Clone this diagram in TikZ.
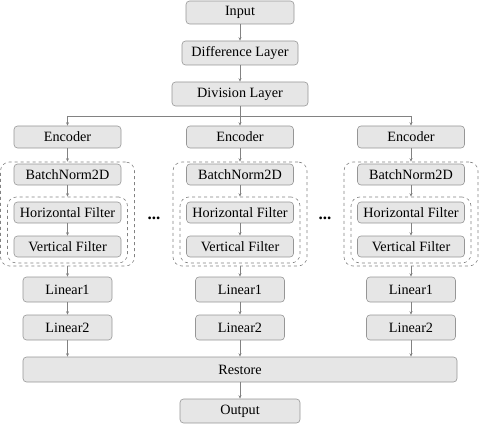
\documentclass[tikz,border=0pt]{standalone}
\usepackage{fontspec}
\setmainfont{Liberation Serif}
\usetikzlibrary{arrows.meta}
\definecolor{boxfill}{RGB}{230,230,230}
\definecolor{boxline}{RGB}{150,150,150}
\definecolor{arrowc}{RGB}{130,130,130}
\begin{document}
\begin{tikzpicture}[x=1pt,y=-1pt,
  blk/.style={draw=boxline,fill=boxfill,rounded corners=3.5pt,line width=0.6pt,inner sep=0pt,
    font=\rmfamily\fontsize{14.2}{15}\selectfont},
  dbox/.style={draw=arrowc,dashed,rounded corners=9pt,line width=0.6pt,inner sep=0pt},
  arr/.style={draw=arrowc,line width=0.6pt,-{Stealth[length=3.5pt,width=3pt]}},
  ln/.style={draw=arrowc,line width=0.6pt},
  dotsty/.style={font=\rmfamily\fontsize{17}{17}\selectfont\bfseries,anchor=base,inner sep=0pt}]
\useasboundingbox (0,0) rectangle (479,425);
\node[blk,minimum width=108pt,minimum height=23pt] (input) at (240,12.5) {Input};
\node[blk,minimum width=116pt,minimum height=24pt] (diff) at (240,53) {Difference Layer};
\node[blk,minimum width=136pt,minimum height=24pt] (div) at (240,94) {Division Layer};
\draw[arr] (input) -- (diff);
\draw[arr] (diff) -- (div);
\coordinate (b1) at (67.5,116);
\coordinate (b2) at (240,116);
\coordinate (b3) at (411,116);
\draw[ln] (div.south) -- (b2);
\draw[ln] (b1) -- (b3);
\node[blk,minimum width=434pt,minimum height=25pt] (restore) at (240,369.5) {Restore};
\node[blk,minimum width=120pt,minimum height=24pt] (output) at (240,411) {Output};
\draw[arr] (restore) -- (output);
\foreach \i/\cx in {1/67.5,2/240,3/411}{
  \node[dbox,minimum width=134pt,minimum height=104pt] (outer\i) at (\cx,214) {};
  \node[dbox,minimum width=120pt,minimum height=66pt] (inner\i) at (\cx,230) {};
  \node[blk,minimum width=107pt,minimum height=22pt] (enc\i) at (\cx,137) {Encoder};
  \node[blk,minimum width=107pt,minimum height=21pt] (bn\i) at (\cx,174.5) {BatchNorm2D};
  \node[blk,minimum width=107pt,minimum height=21pt] (hf\i) at (\cx,212.5) {Horizontal Filter};
  \node[blk,minimum width=107pt,minimum height=21pt] (vf\i) at (\cx,246.5) {Vertical Filter};
  \node[blk,minimum width=89pt,minimum height=25pt] (linA\i) at (\cx,289.5) {Linear1};
  \node[blk,minimum width=89pt,minimum height=25pt] (linB\i) at (\cx,327.5) {Linear2};
  \draw[arr] (b\i) -- (enc\i.north);
  \draw[arr] (enc\i.south) -- (outer\i.north);
  \draw[arr] (bn\i.south) -- (inner\i.north);
  \draw[arr] (hf\i.south) -- (vf\i.north);
  \draw[arr] (outer\i.south) -- (linA\i.north);
  \draw[arr] (linA\i.south) -- (linB\i.north);
  \draw[arr] (linB\i.south) -- (linB\i.south |- restore.north);
}
\node[dotsty] (dots1) at (154,219) {...};
\node[dotsty] (dots2) at (325,219) {...};
\end{tikzpicture}
\end{document}
